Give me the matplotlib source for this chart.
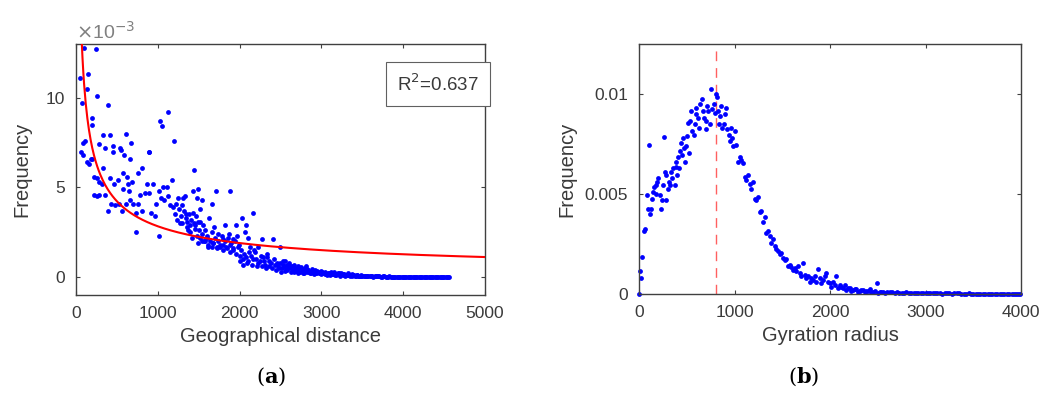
import numpy as np
import matplotlib.pyplot as plt

# (a) geographical distance vs frequency (frequency in units of 1e-3)
geo_dist = [98, 245, 49, 151, 130, 69, 261, 200, 192, 391, 110, 81, 57, 90, 139, 163, 192, 179,
            334, 416, 281, 350, 456, 538, 607, 668, 587, 660, 554, 456, 326, 224, 253, 281, 314,
            416, 464, 518, 575, 620, 640, 681, 762, 803, 888, 896, 1027, 1055, 1121, 1202, 1170,
            224, 253, 285, 350, 391, 432, 473, 526, 558, 579, 611, 652, 660, 693, 733, 733, 758,
            778, 811, 839, 864, 896, 917, 937, 966, 978, 1010, 1019, 1039, 1060, 1080, 1108, 1129,
            1149, 1190, 1223, 1251, 1271, 1292, 1312, 1333, 1345, 1361, 1373, 1394, 1434, 1447,
            1475, 1496, 1516, 1536, 1557, 1496, 1598, 1630, 1658, 1687, 1711, 1740, 1793, 1826,
            1866, 1883, 1915, 1956, 1964, 1997, 2025, 2066, 2078, 2107, 2127, 2160, 2188, 2229,
            2249, 2270, 2290, 2310, 2331, 2363, 2404, 2433, 2474, 2494, 2527, 2575,
            1516, 1536, 1577, 1618, 1658, 1679, 1720, 1760, 1801, 1842, 1883, 1923, 2005, 2046,
            2087, 2148, 2209,
            2200, 2230, 2260, 2280, 2300, 2320, 2340, 2360, 2380, 2400, 2420, 2440, 2460, 2480,
            2000, 2020, 2040, 2060, 2080, 2100, 2120, 2140, 2160, 2180,
            1400, 1420, 1440, 1460, 1480, 1500, 1520, 1540, 1560, 1580, 1600, 1620, 1640, 1660,
            1680, 1700, 1720, 1740, 1760, 1780, 1800, 1820, 1840, 1860, 1880, 1900, 1920, 1940,
            1960, 1980,
            1210, 1240, 1260, 1280, 1300, 1320, 1340, 1360, 1380, 1410, 1430, 1450, 1470, 1490,
            2500, 2520, 2540, 2560, 2580, 2600, 2620, 2640, 2660, 2680, 2700, 2720, 2740, 2760,
            2780, 2800, 2820, 2840, 2860, 2880, 2900, 2920, 2940, 2960, 2980, 3000, 3020, 3040,
            3060, 3080, 3100, 3120, 3140, 3160, 3180, 3200, 3220, 3240, 3260, 3280, 3300, 3320,
            3340, 3360, 3380, 3400, 3420, 3440, 3460, 3480, 3500, 3530, 3560, 3590, 3620, 3650,
            3680, 3710, 3740, 3770, 3800, 3830, 3860, 3890, 3920, 3950, 3980, 4010, 4040, 4070,
            4100, 4130, 4160, 4190, 4220, 4250, 4280, 4310, 4340, 4370, 4400, 4430, 4460, 4490,
            4520, 4550,
            2510, 2550, 2590, 2630, 2670, 2710, 2750, 2790, 2830, 2870, 2910, 2950, 2990, 3030,
            3070, 3110, 3150, 3190, 3230,
            2530, 2570, 2610, 2650, 2690, 2730, 2770, 2810, 2850, 2890, 2930, 2970, 3010, 3050,
            3090, 3130, 3170, 3210, 3250, 3270, 3290, 3310, 3330, 3350, 3370, 3390, 3410, 3430,
            3450, 3470, 3490, 3515, 3545, 3575, 3605, 3635, 3665, 3695, 3725, 3755, 3785, 3815,
            3845, 3875, 3905, 3935, 3965, 3995, 4025, 4055, 4085, 4115, 4145, 4175, 4205, 4235,
            4265, 4295, 4325, 4355, 4385, 4415, 4445, 4475, 4505, 4535, 4565]
geo_freq = [12.8, 12.7, 11.1, 11.3, 10.5, 9.7, 10.1, 8.9, 8.5, 9.6, 7.6, 7.5, 7.0, 6.8, 6.4, 6.3, 6.6, 6.6,
            7.9, 7.9, 7.4, 7.2, 7.3, 7.2, 8.0, 7.5, 6.8, 6.6, 7.1, 7.0, 6.1, 5.6, 5.5, 5.3, 5.2,
            5.5, 5.2, 5.4, 5.8, 5.6, 5.2, 5.3, 5.8, 6.1, 7.0, 7.0, 8.7, 8.4, 9.2, 7.6, 5.4,
            4.6, 4.5, 4.6, 4.6, 3.7, 4.1, 4.0, 4.1, 3.7, 4.9, 4.1, 4.8, 4.3, 4.1, 3.6, 2.5, 4.1,
            4.6, 3.7, 4.7, 5.2, 4.7, 3.6, 5.2, 3.4, 4.1, 4.8, 2.3, 4.4, 5.0, 4.3, 5.0, 4.5,
            4.0, 3.9, 4.1, 4.4, 3.0, 4.0, 4.4, 4.5, 3.5, 3.1, 2.6, 2.9, 4.8, 6.0,
            4.4, 4.9, 3.8, 4.3, 2.9, 1.9, 2.2, 3.3, 4.1, 2.8, 4.8, 2.4, 2.1, 2.9,
            2.4, 4.8, 2.1, 2.9, 2.3, 1.8, 3.3, 2.5, 2.9, 2.2, 1.7, 3.6, 1.4, 1.7,
            0.9, 2.1, 1.1, 0.7, 1.1, 0.9, 2.1, 0.7, 0.6, 1.7, 0.9, 0.7,
            2.2, 2.0, 2.0, 1.8, 1.7, 1.9, 1.7, 1.7, 1.8, 1.6, 1.8, 1.5, 0.9, 0.7,
            0.8, 0.7, 0.6,
            1.0, 0.8, 1.2, 0.6, 0.9, 0.5, 1.3, 0.6, 0.8, 0.5, 1.0, 0.4, 0.8, 0.5,
            1.2, 1.5, 1.0, 1.3, 1.1, 0.9, 1.4, 1.2, 1.0, 1.5,
            2.5, 2.2, 3.0, 2.7, 2.3, 2.6, 3.1, 2.4, 2.0, 2.6, 2.3, 1.7, 2.0, 2.5,
            1.9, 2.2, 1.6, 2.0, 1.8, 2.3, 1.5, 2.0, 1.7, 2.2, 1.4, 1.9, 1.6, 2.0,
            1.3, 1.7,
            3.5, 3.2, 3.8, 3.4, 3.0, 3.7, 3.3, 2.8, 3.5, 3.2, 3.6, 2.9, 3.4, 3.1,
            0.8, 0.5, 0.6, 0.9, 0.4, 0.7, 0.5, 0.6, 0.3, 0.5, 0.4, 0.6, 0.3, 0.45,
            0.35, 0.5, 0.3, 0.4, 0.25, 0.35, 0.3, 0.4, 0.2, 0.3, 0.25, 0.35, 0.2, 0.3,
            0.15, 0.25, 0.2, 0.3, 0.15, 0.2, 0.12, 0.2, 0.15, 0.25, 0.1, 0.15, 0.1, 0.2,
            0.1, 0.12, 0.08, 0.12, 0.08, 0.1, 0.06, 0.1, 0.06, 0.08, 0.05, 0.07, 0.04, 0.06,
            0.04, 0.05, 0.03, 0.04, 0.03, 0.04, 0.02, 0.03, 0.02, 0.03, 0.02, 0.02, 0.01, 0.02,
            0.01, 0.01, 0.01, 0.0, 0.01, 0.0, 0.0, 0.01, 0.0, 0.0, 0.0, 0.0, 0.0, 0.0,
            0.0, 0.0,
            0.3, 0.35, 0.6, 0.3, 0.7, 0.25, 0.55, 0.2, 0.45, 0.2, 0.15, 0.35, 0.15, 0.25,
            0.1, 0.12, 0.28, 0.18, 0.08,
            0.65, 0.45, 0.8, 0.4, 0.35, 0.5, 0.25, 0.6, 0.3, 0.45, 0.2, 0.25, 0.3, 0.15,
            0.2, 0.18, 0.1, 0.25, 0.15, 0.18, 0.08, 0.14, 0.12, 0.08, 0.15, 0.1, 0.06, 0.1,
            0.07, 0.05, 0.08, 0.06, 0.04, 0.07, 0.05, 0.03, 0.05, 0.04, 0.03, 0.04, 0.02, 0.03,
            0.02, 0.03, 0.02, 0.01, 0.02, 0.02, 0.01, 0.01, 0.02, 0.01, 0.01, 0.0, 0.01, 0.0,
            0.0, 0.01, 0.0, 0.0, 0.0, 0.0, 0.0, 0.0, 0.0, 0.0, 0.0]

# power-law fit y = a * x^b (in 1e-3 units)
fit_a = 153.6
fit_b = -0.578
r2_text = 'R$^2$=0.637'

# (b) gyration radius vs frequency
gyr_radius = [0, 14, 21, 35, 49, 59, 84, 98, 105, 112, 126, 133, 147, 157, 175, 182, 188, 199, 216,
              234, 244, 251, 258, 269, 279, 286, 304, 314, 328, 339, 349, 356, 373, 384, 391, 398,
              408, 419, 426, 443, 454, 461, 468, 482, 489, 503, 513, 524, 537, 548, 558, 572, 583,
              593, 600, 618, 628, 642, 656, 670, 681, 698, 705, 712, 726, 740, 757, 768, 782, 796,
              810, 817, 827, 834, 845, 862, 872, 886, 897, 907, 921, 942, 949, 967, 977, 984, 1002,
              1019, 1037, 1054, 1071, 1089, 1106, 1124, 1141, 1159, 1176, 1194, 1211, 1228, 1246,
              1263, 1281, 1298, 1316, 1333, 1351, 1368, 1385, 1403, 1420, 1438, 1455, 1473, 1490,
              1508, 1525, 1543, 1560, 1578, 1595, 1612, 1630, 1647, 1665, 1682, 1700, 1717, 1735,
              1752, 1769, 1787, 1804, 1822, 1839, 1857, 1874, 1891, 1909, 1926, 1944, 1961, 1979,
              1996, 2014, 2031, 2049, 2066, 2083, 2101, 2118, 2136, 2153, 2171, 2206, 2241, 2276,
              2310, 2345, 2380, 2415, 2450, 2492, 2520, 2550, 2600, 2650, 2700, 2750, 2800, 2850,
              2900, 2950, 3000, 3050, 3100, 3150, 3200, 3250, 3300, 3350, 3400, 3450, 3500, 3550,
              3600, 3650, 3700, 3750, 3800, 3850, 3900, 3950, 3990,
              2188, 2224, 2258, 2293, 2328, 2362, 2398, 2432, 2468, 2506, 2535, 2575, 2625, 2675,
              2725, 2775, 2825, 2875, 2925, 2975, 3025, 3075, 3125, 3175, 3225, 3275, 3325, 3375,
              3425, 3475, 3525, 3575, 3625, 3675, 3725, 3775, 3825, 3875, 3925, 3970]
gyr_freq = [0.0, 0.00113, 0.00079, 0.00184, 0.00316, 0.00324, 0.00493, 0.00426, 0.00747, 0.0040,
            0.00426, 0.00473, 0.0051, 0.00535, 0.0050, 0.00544, 0.0056, 0.00578, 0.00493,
            0.00426, 0.00468, 0.00544, 0.00784, 0.00611, 0.00468, 0.00595, 0.00527, 0.0056,
            0.00544, 0.00611, 0.00578, 0.00628, 0.00544, 0.00637, 0.00662, 0.00595,
            0.00687, 0.00628, 0.00713, 0.00755, 0.00696, 0.0078, 0.0073, 0.00662, 0.00738,
            0.00789, 0.00856, 0.00704, 0.00865, 0.00915, 0.00814, 0.00794, 0.00848,
            0.00899, 0.00932, 0.00882, 0.00831, 0.00949, 0.00975, 0.00915, 0.00882, 0.00823,
            0.00865, 0.00941, 0.00915, 0.00848, 0.01025, 0.00924, 0.00949, 0.00907,
            0.0100, 0.00983, 0.00915, 0.00848, 0.0089, 0.00941, 0.00831, 0.00848, 0.00899,
            0.00932, 0.00823, 0.00797, 0.00764, 0.00831, 0.0078, 0.00738, 0.00814,
            0.00747, 0.00662, 0.00687, 0.0067, 0.00654, 0.00586, 0.00569, 0.00595, 0.00552,
            0.00527, 0.0056, 0.00476, 0.00468, 0.00485,
            0.00409, 0.00417, 0.00358, 0.00383, 0.00307, 0.00316, 0.0029, 0.00257, 0.00274,
            0.0024, 0.00223, 0.00215, 0.00198, 0.00206,
            0.00181, 0.00172, 0.00176, 0.00138, 0.00147, 0.00135, 0.00122, 0.0013, 0.00113,
            0.00138, 0.00105, 0.00088, 0.00155, 0.00096,
            0.00079, 0.00088, 0.00062, 0.00079, 0.00071, 0.00088, 0.00062, 0.00125, 0.00079,
            0.00054, 0.00071, 0.00088, 0.00105, 0.00062,
            0.00054, 0.00037, 0.00062, 0.00046, 0.00088, 0.00029, 0.00046, 0.00037, 0.00029,
            0.00046, 0.0002, 0.00029, 0.0002, 0.00024,
            0.00017, 0.0002, 0.00014, 0.00024, 0.00012, 0.00054, 0.00012, 0.0001, 0.00009,
            0.0001, 0.00008, 0.00007, 0.00008, 0.00006,
            0.00006, 0.00005, 0.00005, 0.00004, 0.00005, 0.00004, 0.00003, 0.00004, 0.00003,
            0.00003, 0.00002, 0.00003, 0.00002, 0.00002,
            0.00002, 0.00002, 0.00001, 0.00002, 0.00001, 0.00001, 0.00001, 0.00001, 0.00001,
            0.00032, 0.00015, 0.00026, 0.00012, 0.0002, 0.00009, 0.00016, 0.00008, 0.00013,
            0.00007, 0.00011, 0.00006, 0.00009, 0.00005, 0.00007, 0.00004, 0.00006, 0.00004,
            0.00005, 0.00003, 0.00004, 0.00003, 0.00004, 0.00002, 0.00003, 0.00002, 0.00003,
            0.00002, 0.00002, 0.00001, 0.00002, 0.00001, 0.00002, 0.00001, 0.00001, 0.00001,
            0.00001, 0.00001, 0.0, 0.0]
peak_radius = 810

# Figure

plt.rcParams['font.family'] = ['Liberation Sans', 'DejaVu Sans']
txt = '#3a3a3a'

fig = plt.figure(figsize=(10.45, 4.01), dpi=100)
ax1 = fig.add_axes([0.0727, 0.2643, 0.3914, 0.626])
ax2 = fig.add_axes([0.6115, 0.2668, 0.3656, 0.6234])

for ax in (ax1, ax2):
    ax.tick_params(direction='in', top=True, right=True, length=3, width=0.8,
                   labelsize=12.5, colors='#404040', labelcolor=txt, pad=8)
    for s in ax.spines.values():
        s.set_color('#404040')
        s.set_linewidth(1.0)

# (a)
ax1.scatter(geo_dist, geo_freq, s=12, color='#0000ff', linewidths=0, zorder=2)
xfit = np.linspace(50, 5000, 500)
ax1.plot(xfit, fit_a * xfit ** fit_b, color='#ff0000', lw=1.5, zorder=3)
ax1.set_xlim(0, 5000)
ax1.set_ylim(-1, 13)
ax1.set_xticks([0, 1000, 2000, 3000, 4000, 5000])
ax1.set_yticks([0, 5, 10])
ax1.set_xlabel('Geographical distance', fontsize=14.5, color=txt, labelpad=4)
ax1.set_ylabel('Frequency', fontsize=14.5, color=txt, labelpad=10)
ax1.text(0.0, 1.005, r'$\times$10$^{-3}$', transform=ax1.transAxes, fontsize=14,
         color='#808080', va='bottom', ha='left')
ax1.text(0.885, 0.84, r2_text, transform=ax1.transAxes, fontsize=13.5, color=txt,
         ha='center', va='center',
         bbox=dict(boxstyle='square,pad=0.6', fc='white', ec='#606060', lw=0.8))
fig.text(0.259, 0.045, r'($\mathbf{a}$)', ha='center', fontsize=15,
         family='DejaVu Serif', math_fontfamily='dejavuserif')

# (b)
ax2.scatter(gyr_radius, gyr_freq, s=12, color='#0000ff', linewidths=0, zorder=2, clip_on=False)
ax2.axvline(peak_radius, color='#ff6060', lw=1.0, ls=(0, (7, 5)), zorder=1)
ax2.set_xlim(0, 4000)
ax2.set_ylim(0, 0.0125)
ax2.set_xticks([0, 1000, 2000, 3000, 4000])
ax2.set_yticks([0, 0.005, 0.01])
ax2.set_yticklabels(['0', '0.005', '0.01'])
ax2.set_xlabel('Gyration radius', fontsize=14.5, color=txt, labelpad=4)
ax2.set_ylabel('Frequency', fontsize=14.5, color=txt, labelpad=6)
fig.text(0.769, 0.045, r'($\mathbf{b}$)', ha='center', fontsize=15,
         family='DejaVu Serif', math_fontfamily='dejavuserif')

fig.savefig('out.png', dpi=100)
